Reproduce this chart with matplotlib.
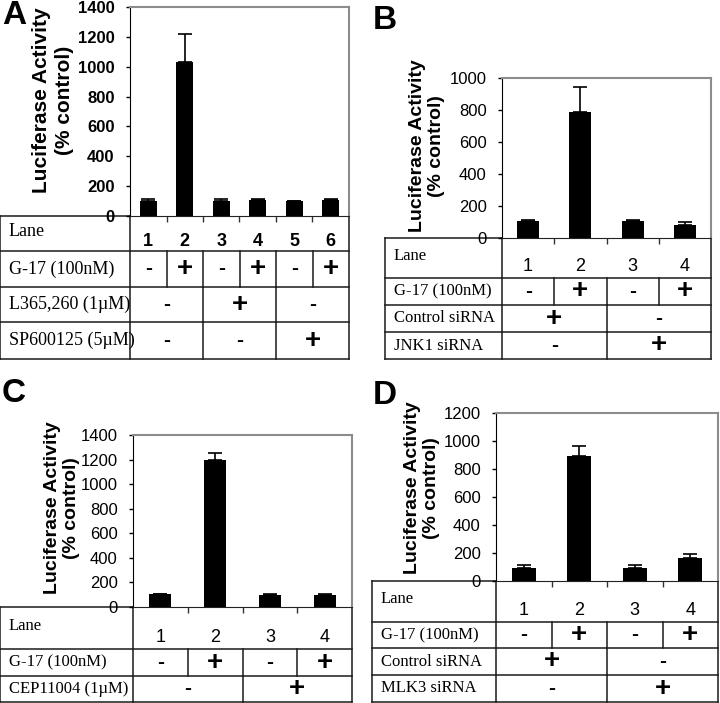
import matplotlib
matplotlib.use('Agg')
import matplotlib.pyplot as plt
import numpy as np

# data (% control, mean and upper error)
lanes_A = ['1', '2', '3', '4', '5', '6']
act_A = [102, 1030, 100, 105, 98, 105]
err_A = [14, 190, 13, 6, 4, 6]

lanes_B = ['1', '2', '3', '4']
act_B = [104, 790, 104, 83]
err_B = [10, 153, 10, 20]

lanes_C = ['1', '2', '3', '4']
act_C = [104, 1200, 100, 100]
err_C = [5, 50, 6, 6]

lanes_D = ['1', '2', '3', '4']
act_D = [96, 895, 96, 165]
err_D = [15, 72, 15, 30]

# table rows: label, list of (sign, number of lanes spanned)
rows_A = [('G-17 (100nM)', [('-', 1), ('+', 1), ('-', 1), ('+', 1), ('-', 1), ('+', 1)]),
          ('L365,260 (1µM)', [('-', 2), ('+', 2), ('-', 2)]),
          ('SP600125 (5µM)', [('-', 2), ('-', 2), ('+', 2)])]
rows_B = [('G-17 (100nM)', [('-', 1), ('+', 1), ('-', 1), ('+', 1)]),
          ('Control siRNA', [('+', 2), ('-', 2)]),
          ('JNK1 siRNA', [('-', 2), ('+', 2)])]
rows_C = [('G-17 (100nM)', [('-', 1), ('+', 1), ('-', 1), ('+', 1)]),
          ('CEP11004 (1µM)', [('-', 2), ('+', 2)])]
rows_D = [('G-17 (100nM)', [('-', 1), ('+', 1), ('-', 1), ('+', 1)]),
          ('Control siRNA', [('+', 2), ('-', 2)]),
          ('MLK3 siRNA', [('-', 2), ('+', 2)])]

W, H = 720, 703
fig = plt.figure(figsize=(W / 100, H / 100), dpi=100)

SANS = ['Liberation Sans', 'DejaVu Sans']
SERIF = ['Liberation Serif', 'DejaVu Serif']


def fig_rect(left, right, top, bottom):
    return [left / W, 1 - bottom / H, (right - left) / W, (bottom - top) / H]


def panel(letter, letter_xy, vals, errs, lanes, rows, ymax, box, tab_left, row_edges,
          bold, bar_w, lab_xy, lab_size, tick_fs, lab_fs):
    left, right, top, bottom = box
    n = len(vals)
    x = np.arange(n)
    ax = fig.add_axes(fig_rect(left, right, top, bottom))
    ax.bar(x, vals, width=bar_w, color='black', zorder=2)
    ax.errorbar(x, vals, yerr=[np.zeros(n), errs], fmt='none', ecolor='black',
                elinewidth=1.2, capsize=5, capthick=1.2, zorder=3)
    ax.set_xlim(-0.5, n - 0.5)
    ax.set_ylim(0, ymax)
    ax.set_yticks(np.arange(0, ymax + 1, 200))
    ax.set_xticks(np.arange(n - 1) + 0.5)
    ax.set_xticklabels([])
    ax.tick_params(axis='x', direction='out', length=4, width=1, color='#333333')
    ax.tick_params(axis='y', direction='out', length=3, width=1, pad=8)
    for t in ax.get_yticklabels():
        t.set_fontfamily(SANS)
        t.set_fontsize(tick_fs)
        t.set_fontweight('bold' if bold else 'normal')
    ax.spines['left'].set_color('black')
    ax.spines['bottom'].set_color('#222222')
    for s in ['top', 'right']:
        ax.spines[s].set_color('#8c8c8c')
        ax.spines[s].set_linewidth(1.5)
    fig.text(lab_xy[0] / W, 1 - lab_xy[1] / H, 'Luciferase Activity\n(% control)',
             rotation=90, ha='center', va='center', fontsize=lab_size,
             fontweight='bold', family=SANS, linespacing=1.2, multialignment='center')

    # table below the bars
    tb = fig.add_axes(fig_rect(tab_left, right, row_edges[0], row_edges[-1]))
    tb.set_zorder(-1)
    w = (right - left) / n
    x0 = -0.5 - (left - tab_left) / w
    tb.set_xlim(x0, n - 0.5)
    tb.set_ylim(row_edges[-1], row_edges[0])
    tb.axis('off')
    lc = '#1a1a1a'
    for y in row_edges:
        tb.plot([x0, n - 0.5], [y, y], color=lc, lw=1.1, clip_on=False)
    for xv in [x0, -0.5, n - 0.5]:
        tb.plot([xv, xv], [row_edges[0], row_edges[-1]], color=lc, lw=1.1, clip_on=False)
    pad = 9 / w
    # lane row
    r0, r1 = row_edges[0], row_edges[1]
    tb.text(x0 + pad, r0 + 0.45 * (r1 - r0), 'Lane', family=SERIF, fontsize=lab_fs,
            va='center', ha='left')
    for i, lab in enumerate(lanes):
        tb.text(i, r0 + 0.72 * (r1 - r0), lab, ha='center', va='center',
                family=SANS, fontsize=tick_fs + 1,
                fontweight='bold' if bold else 'normal')
    for k, (label, cells) in enumerate(rows):
        ra, rb = row_edges[k + 1], row_edges[k + 2]
        yc = (ra + rb) / 2
        tb.text(x0 + pad, yc, label, family=SERIF, fontsize=lab_fs, va='center', ha='left')
        pos = -0.5
        for j, (sign, span) in enumerate(cells):
            if j > 0:
                tb.plot([pos, pos], [ra, rb], color=lc, lw=1.1, clip_on=False)
            cx = pos + span / 2
            if sign == '+':
                tb.text(cx, yc, '+', ha='center', va='center', family=SANS,
                        fontsize=20, fontweight='bold')
            else:
                tb.text(cx, yc, '-', ha='center', va='center', family=SANS,
                        fontsize=15, fontweight='bold')
            pos += span

    fig.text(letter_xy[0] / W, 1 - letter_xy[1] / H, letter, fontsize=24,
             fontweight='bold', family=SANS, ha='left', va='top')


panel('A', (2, 0), act_A, err_A, lanes_A, rows_A, 1400, (130, 349, 7, 216), 0,
      [216, 251, 287, 322, 359], True, 0.46, (53, 100), 15, 12, 13)
panel('B', (373, 5), act_B, err_B, lanes_B, rows_B, 1000, (502, 711, 78, 238), 385,
      [238, 278, 305, 332, 359], False, 0.42, (427, 146), 14, 12, 12)
panel('C', (2, 378), act_C, err_C, lanes_C, rows_C, 1400, (133, 352, 435, 607), 0,
      [607, 649, 676, 702], False, 0.40, (62, 508), 14, 12, 12)
panel('D', (373, 380), act_D, err_D, lanes_D, rows_D, 1200, (496, 718, 413, 581), 372,
      [581, 622, 648, 675, 702], False, 0.43, (422, 488), 14, 12, 12)

fig.savefig('out.png', dpi=100)
